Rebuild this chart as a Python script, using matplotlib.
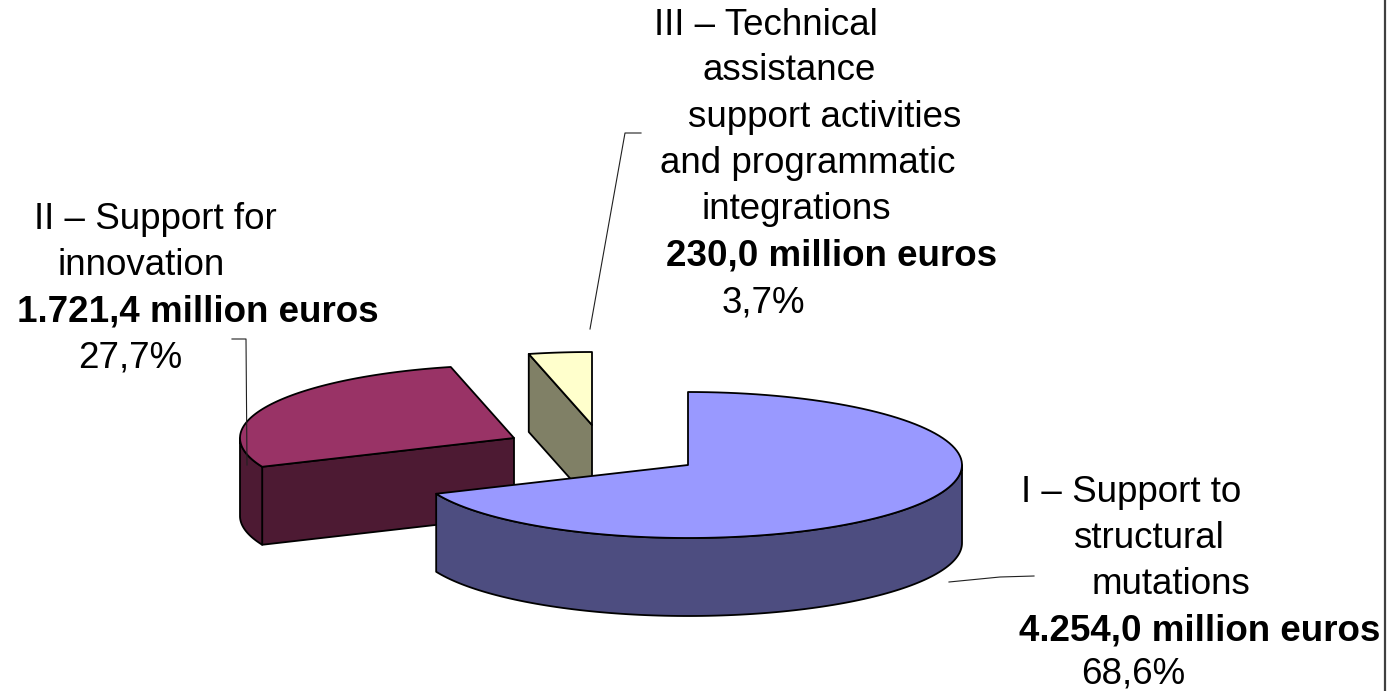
#!/usr/bin/env python3
"""3D style exploded pie of the programme budget, drawn in pixel coordinates"""

import numpy as np
import matplotlib
matplotlib.use('Agg')
import matplotlib.pyplot as plt
from matplotlib.patches import Polygon

# data (million euros), clockwise from 12 o'clock
amounts = [4254.0, 1721.4, 230.0]
top_colors = ['#9999FF', '#993366', '#FFFFCC']
side_colors = ['#4D4D80', '#4D1A33', '#808066']

label_lines = [
    ['I – Support to', 'structural', 'mutations', '4.254,0 million euros', '68,6%'],
    ['II – Support for', 'innovation', '1.721,4 million euros', '27,7%'],
    ['III – Technical', 'assistance', 'support activities', 'and programmatic',
     'integrations', '230,0 million euros', '3,7%'],
]

# layout
centers = [(688, 465), (514, 438), (592, 425)]
RX, RY, DEPTH = 274, 73, 78
label_x = [
    [1021, 1073, 1092, 1019, 1081],
    [34, 58, 17, 78],
    [654, 703, 688, 660, 702, 666, 722],
]
label_y = [
    [502, 548, 594, 640, 684],
    [229, 275, 321, 367],
    [35, 80, 127, 173, 219, 265, 312],
]
leaders = [
    ([949, 1000, 1034], [582, 577, 576]),
    ([232, 246, 247], [339, 339, 465]),
    ([641, 625, 590], [133, 133, 329]),
]

plt.rcParams['font.family'] = ['Liberation Sans', 'DejaVu Sans']
EDGE = dict(edgecolor='black', linewidth=1.3, joinstyle='round')


def rim(center, a0, a1, n=120):
    """楕円の外周 (a は12時から時計回りの角度)"""
    t = np.radians(np.linspace(a0, a1, n))
    return center[0] + RX * np.sin(t), center[1] - RY * np.cos(t)


def draw_slice(ax, center, a0, a1, top, side):
    # 切断面
    if np.sin(np.radians(a0)) < 0:
        x, y = rim(center, a0, a0, 1)
        pts = [center, (x[0], y[0]), (x[0], y[0] + DEPTH), (center[0], center[1] + DEPTH)]
        ax.add_patch(Polygon(pts, facecolor=side, **EDGE))
    # 手前の外周
    lo, hi = max(a0, 90), min(a1, 270)
    if lo < hi:
        x, y = rim(center, lo, hi)
        pts = np.r_[np.c_[x, y], np.c_[x[::-1], y[::-1] + DEPTH]]
        ax.add_patch(Polygon(pts, facecolor=side, **EDGE))
    # 上面
    x, y = rim(center, a0, a1)
    pts = np.r_[[center], np.c_[x, y]]
    ax.add_patch(Polygon(pts, facecolor=top, **EDGE))


fig = plt.figure(figsize=(13.99, 6.91), dpi=100)
ax = fig.add_axes([0, 0, 1, 1])
ax.set_xlim(0, 1399)
ax.set_ylim(691, 0)
ax.axis('off')

angles = np.r_[0, np.cumsum(amounts) / np.sum(amounts) * 360]

# 奥のスライスから順に描画
for i in [2, 1, 0]:
    draw_slice(ax, centers[i], angles[i], angles[i + 1], top_colors[i], side_colors[i])

for lx, ly in leaders:
    ax.plot(lx, ly, color='#202020', lw=0.8)

for lines, xs, ys in zip(label_lines, label_x, label_y):
    for line, x, y in zip(lines, xs, ys):
        weight = 'bold' if 'million' in line else 'normal'
        ax.text(x, y, line, fontsize=26.5, fontweight=weight, color='black',
                ha='left', va='baseline')

# 右端の枠線
ax.axvline(1385, color='#404040', lw=1.6)

fig.savefig('out.png', dpi=100)
